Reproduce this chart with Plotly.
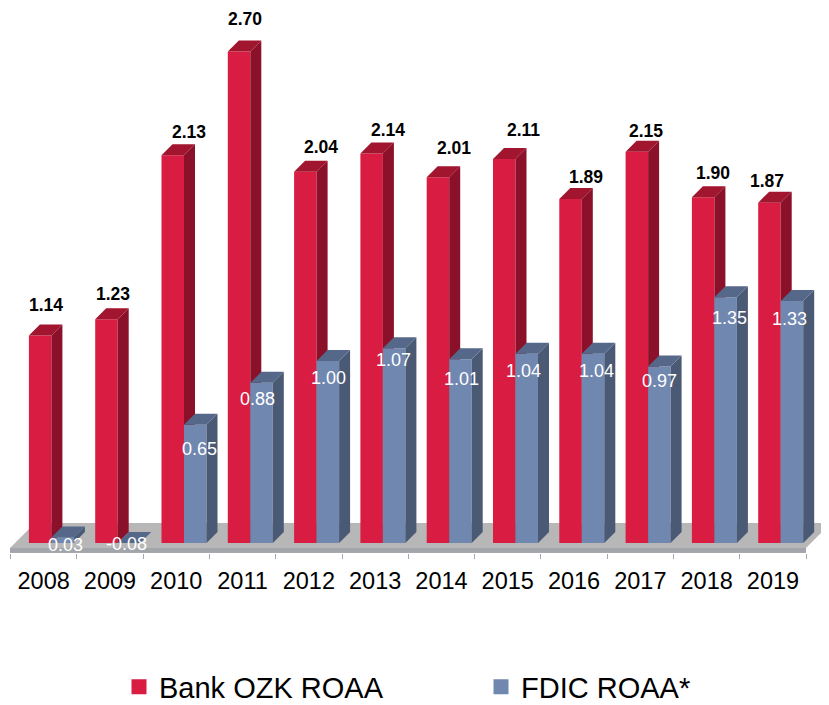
import plotly.graph_objects as go

years = list(range(2008, 2020))
ozk_roaa = [1.14, 1.23, 2.13, 2.70, 2.04, 2.14, 2.01, 2.11, 1.89, 2.15, 1.90, 1.87]
fdic_roaa = [0.03, -0.08, 0.65, 0.88, 1.00, 1.07, 1.01, 1.04, 1.04, 0.97, 1.35, 1.33]
ozk_name = "Bank OZK ROAA"
fdic_name = "FDIC ROAA*"

# hand placement of the labels, in pixels relative to the front-top-left of each bar
ozk_label_dx = [17, 18, 27, 17, 27, 28, 27, 30, 27, 20, 21, 9]
ozk_label_up = [31, 25, 23, 33, 25, 24, 29, 29, 22, 21, 24, 22]
fdic_label_dx = [14, 9, 15, 7, 12, 11, 12, 8, 15, 11, 15, 9]
fdic_label_dn = [7, 1, 24, 16, 17, 12, 20, 17, 17, 15, 21, 18]

OFF = 8          # the page body margin
W, H = 829 - OFF, 705 - OFF
PX_X = 66.3      # px per category
PX_Y = 182.0     # px per unit of value
BASE_PX = 543    # y pixel of value 0
AXIS_PX = 553    # y pixel of axis line
LEFT_PX = 10.5   # left edge of first category
BAR_PX = 22.5
DEPTH_PX = 11

RED = dict(front="#D91D42", side="#8A1129", top="#A1152F")
BLUE = dict(front="#7087B0", side="#4A5A75", top="#55688A")


def x_of(px):
    return years[0] - 0.5 + (px - LEFT_PX) / PX_X


def y_of(py):
    return (BASE_PX - py) / PX_Y


dx, dy = DEPTH_PX / PX_X, DEPTH_PX / PX_Y
bw = BAR_PX / PX_X
red_left = -14.75 / PX_X
blue_left = red_left + bw


def faces(lefts, values):
    sx, sy, tx, ty = [], [], [], []
    for l, v in zip(lefts, values):
        h = max(v, 0)
        r = l + bw
        sx += [r, r + dx, r + dx, r, r, None]
        sy += [0, dy, h + dy, h, 0, None]
        tx += [l, l + dx, r + dx, r, l, None]
        ty += [h, h + dy, h + dy, h, h, None]
    return sx, sy, tx, ty


def add_series(fig, values, left, col, xa, ya):
    lefts = [yr + left for yr in years]
    sx, sy, tx, ty = faces(lefts, values)
    fig.add_trace(go.Bar(x=[l + bw / 2 for l in lefts], y=[max(v, 0) for v in values], width=bw,
                         marker=dict(color=col["front"], line=dict(width=0)), showlegend=False,
                         hoverinfo="skip", xaxis=xa, yaxis=ya))
    for xs, ys, c in ((sx, sy, col["side"]), (tx, ty, col["top"])):
        fig.add_trace(go.Scatter(x=xs, y=ys, mode="lines", fill="toself", fillcolor=c,
                                 line=dict(width=0), showlegend=False, hoverinfo="skip",
                                 xaxis=xa, yaxis=ya))


fig = go.Figure()
add_series(fig, ozk_roaa, red_left, RED, "x", "y")
add_series(fig, fdic_roaa, blue_left, BLUE, "x2", "y2")

for name, col, leg in ((ozk_name, RED, "legend"), (fdic_name, BLUE, "legend2")):
    fig.add_trace(go.Scatter(x=[None], y=[None], mode="markers", name=name, legend=leg,
                             marker=dict(symbol="square", size=15, color=col["front"])))

# floor of the 3D plot
fl, fr = x_of(10), x_of(806)
fb, ft = y_of(548), y_of(523)
ox = 25 / PX_X
fig.add_shape(type="path", layer="below", xref="x", yref="y", line_width=0, fillcolor="#B7B7B7",
              path=f"M{fl},{fb} L{fl+ox},{ft} L{fr+ox},{ft} L{fr},{fb} Z")
fig.add_shape(type="rect", layer="below", xref="x", yref="y", line_width=0, fillcolor="#A2A6AB",
              x0=fl, x1=fr, y0=y_of(552), y1=fb)
fig.add_shape(type="line", layer="below", xref="x", yref="y", x0=x_of(10), x1=x_of(806),
              y0=y_of(AXIS_PX - 0.5), y1=y_of(AXIS_PX - 0.5), line=dict(color="#A6A9AD", width=1))

for i, yr in enumerate(years):
    fig.add_annotation(x=yr + red_left, y=max(ozk_roaa[i], 0), xref="x", yref="y", text=f"{ozk_roaa[i]:.2f}",
                       showarrow=False, xshift=ozk_label_dx[i], yshift=ozk_label_up[i],
                       font=dict(family="Liberation Sans", size=17.5, color="black", weight="bold"))
    fig.add_annotation(x=yr + blue_left, y=max(fdic_roaa[i], 0), xref="x", yref="y", text=f"{fdic_roaa[i]:.2f}",
                       showarrow=False, xshift=fdic_label_dx[i], yshift=-fdic_label_dn[i],
                       font=dict(family="Liberation Sans", size=18, color="white"))

xr = [x_of(OFF), x_of(OFF + W)]
yr_ = [y_of(AXIS_PX), y_of(OFF)]
leg_common = dict(orientation="h", xanchor="left", y=(AXIS_PX - 687) / (AXIS_PX - OFF), yanchor="middle",
                  font=dict(size=29), bgcolor="rgba(0,0,0,0)")
fig.update_layout(
    width=W, height=H, autosize=False,
    margin=dict(l=0, r=0, t=0, b=H + OFF - AXIS_PX, pad=0, autoexpand=False),
    paper_bgcolor="white", plot_bgcolor="white", barmode="overlay",
    font=dict(family="Liberation Sans", color="black"),
    xaxis=dict(range=xr, tickmode="array", tickvals=years, ticktext=[str(y) for y in years],
               ticklen=0, ticks="", showgrid=False, zeroline=False, showline=False,
               tickfont=dict(size=23.5), ticklabelstandoff=11,
               minor=dict(tickmode="array", tickvals=[y - 0.5 for y in years] + [years[-1] + 0.5],
                          ticks="outside", ticklen=5, tickcolor="#A6A9AD", tickwidth=1, showgrid=False)),
    yaxis=dict(range=yr_, visible=False),
    xaxis2=dict(range=xr, overlaying="x", visible=False),
    yaxis2=dict(range=yr_, overlaying="y", visible=False),
    legend=dict(x=(119 - OFF) / W, **leg_common),
    legend2=dict(x=(481 - OFF) / W, **leg_common),
    showlegend=True,
)
fig.write_html("out.html", config=dict(displayModeBar=False))
